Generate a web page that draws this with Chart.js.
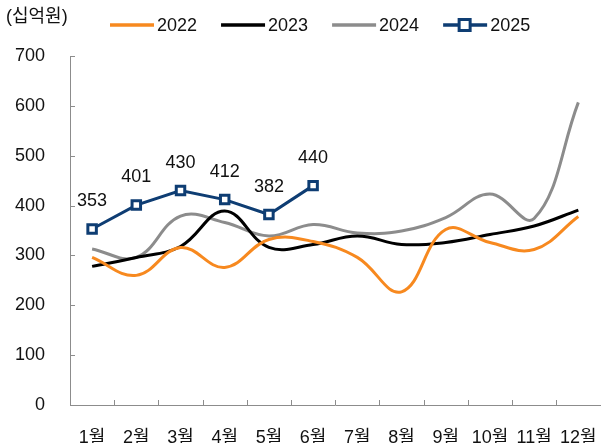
<!DOCTYPE html>
<html>
<head>
<meta charset="utf-8">
<script src="https://cdn.jsdelivr.net/npm/chart.js@4.4.1/dist/chart.umd.min.js"></script>
<style>
  html, body { margin: 0; padding: 0; background: #fff; }
  #wrap { width: 611px; height: 443px; }
</style>
</head>
<body>
<div id="wrap"><canvas id="chart"></canvas></div>
<script>
// 데이터
const months = ['1월', '2월', '3월', '4월', '5월', '6월', '7월', '8월', '9월', '10월', '11월', '12월'];
const sales2022 = [296, 260, 316, 276, 332, 328, 296, 227, 352, 326, 312, 378];
const sales2023 = [278, 296, 318, 389, 316, 322, 339, 322, 326, 342, 359, 391];
const sales2024 = [313, 296, 379, 366, 339, 362, 345, 349, 376, 423, 374, 607];
const sales2025 = [353, 401, 430, 412, 382, 440];
const yTicks = [0, 100, 200, 300, 400, 500, 600, 700];

const FONT = "'Liberation Sans', Arial, 'Noto Sans CJK KR', sans-serif";
const AXIS = '#8c8c8c';

// 안쪽 눈금 그리기
const innerTicks = {
    id: 'innerTicks',
    afterDraw(chart) {
        const ctx = chart.ctx;
        const x = chart.scales.x;
        const y = chart.scales.y;
        ctx.save();
        ctx.strokeStyle = AXIS;
        ctx.lineWidth = 1;
        ctx.beginPath();
        yTicks.forEach(v => {
            const py = Math.round(y.getPixelForValue(v)) + 0.5;
            ctx.moveTo(x.left, py);
            ctx.lineTo(x.left + 5, py);
        });
        for (let i = 1; i < months.length; i++) {
            const px = Math.round((x.getPixelForValue(i - 1) + x.getPixelForValue(i)) / 2) + 0.5;
            ctx.moveTo(px, y.bottom);
            ctx.lineTo(px, y.bottom - 5);
        }
        ctx.stroke();
        ctx.restore();
    }
};

// 2025 값 표시
const valueLabels = {
    id: 'valueLabels',
    afterDatasetsDraw(chart) {
        const ctx = chart.ctx;
        const meta = chart.getDatasetMeta(3);
        ctx.save();
        ctx.font = '18px ' + FONT;
        ctx.fillStyle = '#111';
        ctx.textAlign = 'center';
        ctx.textBaseline = 'alphabetic';
        meta.data.forEach((pt, i) => {
            ctx.fillText(String(sales2025[i]), pt.x, pt.y - 23);
        });
        ctx.restore();
    }
};

// 범례 + 단위
const topLegend = {
    id: 'topLegend',
    afterDraw(chart) {
        const ctx = chart.ctx;
        ctx.save();
        ctx.font = '18px ' + FONT;
        ctx.fillStyle = '#111';
        ctx.textBaseline = 'middle';
        ctx.fillText('(십억원)', 6, 17);

        let lx = 110;
        const ly = 25;
        chart.data.datasets.forEach(ds => {
            ctx.strokeStyle = ds.borderColor;
            ctx.lineWidth = 3.5;
            ctx.beginPath();
            ctx.moveTo(lx, ly);
            ctx.lineTo(lx + 44, ly);
            ctx.stroke();
            if (ds.pointStyle === 'rect') {
                ctx.fillStyle = '#fff';
                ctx.lineWidth = 3;
                ctx.fillRect(lx + 16, ly - 5.5, 11, 11);
                ctx.strokeRect(lx + 16, ly - 5.5, 11, 11);
            }
            ctx.fillStyle = '#111';
            ctx.fillText(ds.label, lx + 47, ly + 1);
            lx += 47 + ctx.measureText(ds.label).width + 24;
        });
        ctx.restore();
    }
};

new Chart(document.getElementById('chart'), {
    type: 'line',
    data: {
        labels: months,
        datasets: [
            { label: '2022', data: sales2022, borderColor: '#f7891f', borderWidth: 3, tension: 0.4, pointRadius: 0 },
            { label: '2023', data: sales2023, borderColor: '#000000', borderWidth: 3, tension: 0.4, pointRadius: 0 },
            { label: '2024', data: sales2024, borderColor: '#8c8c8c', borderWidth: 3, tension: 0.4, pointRadius: 0 },
            {
                label: '2025', data: sales2025, borderColor: '#0e3d73', borderWidth: 3, tension: 0,
                pointStyle: 'rect', pointRadius: 6, pointBorderWidth: 3,
                pointBackgroundColor: '#ffffff', pointBorderColor: '#0e3d73'
            }
        ]
    },
    options: {
        responsive: true,
        maintainAspectRatio: false,
        animation: false,
        layout: { padding: { top: 56, right: 9, left: 0, bottom: 0 } },
        plugins: {
            legend: { display: false },
            tooltip: { enabled: false }
        },
        scales: {
            x: {
                offset: true,
                afterFit(scale) { scale.height = 38; },
                grid: { display: false },
                border: { display: true, color: AXIS, width: 1 },
                ticks: { color: '#111', font: { family: FONT, size: 18 }, padding: 14, maxRotation: 0, autoSkip: false }
            },
            y: {
                min: 0,
                max: 700,
                afterFit(scale) { scale.width = 70; },
                afterBuildTicks(scale) { scale.ticks = yTicks.map(v => ({ value: v })); },
                grid: { display: false },
                border: { display: true, color: AXIS, width: 1 },
                ticks: { color: '#111', font: { family: FONT, size: 18 }, padding: 17 }
            }
        }
    },
    plugins: [innerTicks, valueLabels, topLegend]
});
</script>
</body>
</html>
